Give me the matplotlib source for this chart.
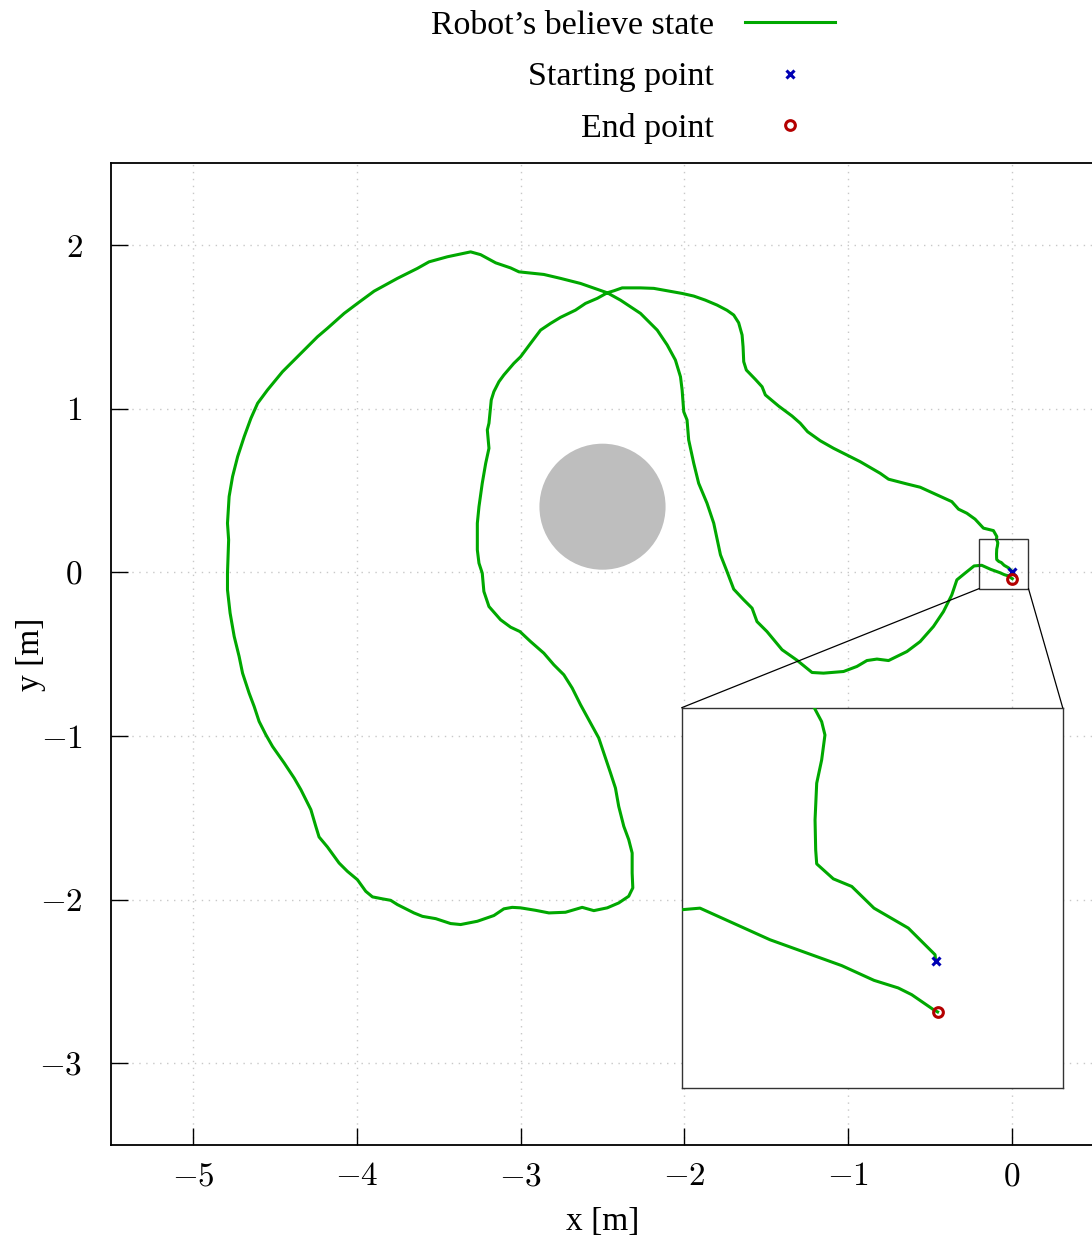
import matplotlib
matplotlib.use("Agg")
import matplotlib.pyplot as plt
from matplotlib.patches import Circle, Rectangle, ConnectionPatch

plt.rcParams['mathtext.fontset'] = 'cm'
plt.rcParams['font.family'] = ['Liberation Serif', 'DejaVu Serif']

# ---- data -------------------------------------------------------------
path_x = [0.0, -0.0005, -0.0216, -0.0486, -0.0661, -0.0806, -0.0937, -0.0945, -0.095, -0.0937,
          -0.0898, -0.0872, -0.0898, -0.0958,
          -0.093, -0.114, -0.175, -0.226, -0.276, -0.327, -0.368, -0.480, -0.561, -0.642,
          -0.754, -0.805, -0.927, -1.008, -1.090, -1.171, -1.248, -1.293, -1.343, -1.425,
          -1.506, -1.526, -1.567, -1.622, -1.638, -1.642, -1.648, -1.669, -1.699, -1.740,
          -1.801, -1.872, -1.943, -2.014, -2.126, -2.187, -2.268, -2.380, -2.431, -2.471,
          -2.532, -2.604, -2.665, -2.756, -2.817, -2.878, -2.909, -2.939, -3.000, -3.041,
          -3.102, -3.132, -3.163, -3.179, -3.193, -3.203, -3.193, -3.213, -3.234, -3.254,
          -3.264, -3.264, -3.254, -3.234, -3.224, -3.193, -3.122, -3.061, -3.004, -2.939,
          -2.858, -2.797, -2.736, -2.685, -2.634, -2.584, -2.523, -2.492, -2.451, -2.421,
          -2.401, -2.370, -2.340, -2.319, -2.319, -2.315, -2.340, -2.401, -2.471, -2.553,
          -2.624, -2.726, -2.827, -2.909, -3.000, -3.051, -3.102, -3.163, -3.264, -3.366,
          -3.427, -3.518, -3.599, -3.651, -3.752, -3.793, -3.843, -3.904, -3.945, -3.996,
          -4.057, -4.108, -4.138, -4.179, -4.230, -4.250, -4.280, -4.341, -4.382, -4.443,
          -4.514, -4.555, -4.596, -4.626, -4.657, -4.697, -4.718, -4.748, -4.773, -4.789,
          -4.789, -4.782, -4.789, -4.779, -4.758, -4.727, -4.687, -4.646, -4.605, -4.545,
          -4.453, -4.331, -4.240, -4.179, -4.077, -3.996, -3.894, -3.752, -3.630, -3.559,
          -3.447, -3.305, -3.244, -3.152, -3.061, -3.010, -2.858, -2.756, -2.634, -2.471,
          -2.390, -2.268, -2.166, -2.105, -2.055, -2.024, -2.014, -2.004, -1.984, -1.974,
          -1.943, -1.913, -1.862, -1.821, -1.791, -1.780, -1.740, -1.699, -1.638, -1.587,
          -1.557, -1.496, -1.445, -1.404, -1.313, -1.221, -1.151, -1.029, -0.947, -0.886,
          -0.825, -0.754, -0.642, -0.561, -0.480, -0.419, -0.368, -0.337, -0.287, -0.232,
          -0.2008, -0.1856, -0.1305, -0.074, -0.0486, -0.0295, -0.0189, -0.0019, 0.0015]
path_y = [0.0, 0.0053, 0.0263, 0.042, 0.0591, 0.0651, 0.0769, 0.0879, 0.1116, 0.1405,
          0.1588, 0.1785, 0.189, 0.2003,
          0.217, 0.254, 0.269, 0.324, 0.360, 0.385, 0.431, 0.482, 0.519, 0.539,
          0.568, 0.604, 0.675, 0.716, 0.757, 0.803, 0.858, 0.910, 0.954, 1.015,
          1.083, 1.133, 1.178, 1.235, 1.286, 1.377, 1.449, 1.524, 1.571, 1.600,
          1.632, 1.662, 1.687, 1.703, 1.723, 1.734, 1.737, 1.737, 1.719, 1.707,
          1.673, 1.642, 1.601, 1.557, 1.520, 1.479, 1.438, 1.398, 1.316, 1.276,
          1.205, 1.164, 1.103, 1.052, 0.910, 0.869, 0.757, 0.665, 0.543, 0.400,
          0.299, 0.136, 0.055, -0.006, -0.118, -0.210, -0.291, -0.336, -0.363, -0.424,
          -0.495, -0.566, -0.627, -0.708, -0.810, -0.902, -1.013, -1.105, -1.227, -1.319,
          -1.431, -1.553, -1.634, -1.716, -1.838, -1.929, -1.980, -2.021, -2.051, -2.068,
          -2.048, -2.078, -2.082, -2.066, -2.051, -2.048, -2.057, -2.098, -2.133, -2.153,
          -2.147, -2.117, -2.103, -2.082, -2.031, -2.005, -1.996, -1.984, -1.950, -1.879,
          -1.828, -1.777, -1.736, -1.679, -1.618, -1.553, -1.451, -1.329, -1.258, -1.166,
          -1.065, -0.993, -0.912, -0.821, -0.739, -0.617, -0.515, -0.393, -0.250, -0.108,
          -0.006, 0.197, 0.299, 0.462, 0.584, 0.706, 0.828, 0.940, 1.032, 1.113,
          1.225, 1.347, 1.438, 1.490, 1.581, 1.642, 1.717, 1.795, 1.856, 1.896,
          1.927, 1.957, 1.940, 1.890, 1.859, 1.835, 1.819, 1.795, 1.764, 1.707,
          1.662, 1.581, 1.479, 1.388, 1.296, 1.194, 1.113, 0.980, 0.930, 0.808,
          0.665, 0.543, 0.421, 0.299, 0.156, 0.106, 0.004, -0.104, -0.169, -0.220,
          -0.302, -0.363, -0.424, -0.474, -0.538, -0.613, -0.617, -0.607, -0.576, -0.540,
          -0.531, -0.540, -0.485, -0.424, -0.332, -0.241, -0.139, -0.047, -0.006, 0.038,
          0.0407, 0.042, 0.0171, -0.0033, -0.0149, -0.0209, -0.0262, -0.0379, -0.0398]

start_pt = (0.0, 0.0)
end_pt = (0.0015, -0.0398)
obstacle_center = (-2.5, 0.4)
obstacle_radius = 0.385

xlim = (-5.5, 0.5)
ylim = (-3.5, 2.5)
xticks = [-5, -4, -3, -2, -1, 0]
xtick_labels = [r'$-5$', r'$-4$', r'$-3$', r'$-2$', r'$-1$', r'$0$']
yticks = [-3, -2, -1, 0, 1, 2]
ytick_labels = [r'$-3$', r'$-2$', r'$-1$', r'$0$', r'$1$', r'$2$']

zoom_x = (-0.2, 0.1)
zoom_y = (-0.1, 0.2)

labels = ['Robot\u2019s believe state', 'Starting point', 'End point']

# ---- styles -----------------------------------------------------------
GREEN = '#00a800'
BLUE = '#0000b4'
RED = '#b40000'
W, H = 1092, 1242

fig = plt.figure(figsize=(W / 100, H / 100), dpi=100)
ax = fig.add_axes([111 / W, 1 - 1145 / H, (1094 - 111) / W, (1145 - 163) / H])

ax.add_patch(Circle(obstacle_center, obstacle_radius, facecolor='#bebebe',
                    edgecolor='none', zorder=1))
l1, = ax.plot(path_x, path_y, color=GREEN, lw=2.2, zorder=3, label=labels[0])
l2, = ax.plot([start_pt[0]], [start_pt[1]], ls='none', marker='x', color=BLUE,
              ms=6, mew=2.2, zorder=5, label=labels[1])
l3, = ax.plot([end_pt[0]], [end_pt[1]], ls='none', marker='o', mfc='none', mec=RED,
              ms=7, mew=2.2, zorder=5, label=labels[2])

ax.set_xlim(*xlim)
ax.set_ylim(*ylim)
ax.set_xticks(xticks, labels=xtick_labels)
ax.set_yticks(yticks, labels=ytick_labels)
ax.tick_params(direction='in', length=12, width=1.0, labelsize=24,
               top=False, right=False)
ax.tick_params(axis='x', pad=12)
ax.tick_params(axis='y', pad=20.5)
ax.grid(True, color='#c8c8c8', linestyle=(0, (1, 4)), lw=1.0)
for s in ax.spines.values():
    s.set_linewidth(1.3)
ax.set_xlabel('x [m]', fontsize=24, labelpad=10)
ax.set_ylabel('y [m]', fontsize=24, labelpad=-4.5)

# zoom box
ax.add_patch(Rectangle((zoom_x[0], zoom_y[0]), zoom_x[1] - zoom_x[0], zoom_y[1] - zoom_y[0],
                       fill=False, edgecolor='#333333', lw=1.0, zorder=4))

# inset
axin = fig.add_axes([681.7 / W, 1 - 1088.3 / H, 381 / W, 380.6 / H])
axin.plot(path_x, path_y, color=GREEN, lw=2.2, zorder=3)
axin.plot([start_pt[0]], [start_pt[1]], ls='none', marker='x', color=BLUE,
          ms=6, mew=2.2, zorder=5)
axin.plot([end_pt[0]], [end_pt[1]], ls='none', marker='o', mfc='none', mec=RED,
          ms=7, mew=2.2, zorder=5)
axin.set_xlim(*zoom_x)
axin.set_ylim(*zoom_y)
axin.set_xticks([])
axin.set_yticks([])
for s in axin.spines.values():
    s.set_linewidth(1.0)
    s.set_edgecolor('#333333')

for (xa, ya), (xb, yb) in [((zoom_x[0], zoom_y[0]), (0, 1)), ((zoom_x[1], zoom_y[0]), (1, 1))]:
    con = ConnectionPatch(xyA=(xa, ya), coordsA=ax.transData, xyB=(xb, yb),
                          coordsB=axin.transAxes, color='black', lw=0.9)
    fig.add_artist(con)

fig.legend(handles=[l1, l2, l3], labels=labels, loc='upper center',
           bbox_to_anchor=(633 / W, 1.0 - 7 / H), frameon=False, markerfirst=False,
           fontsize=24.5, handlelength=2.65, handletextpad=0.9, labelspacing=0.6,
           borderaxespad=0.0, borderpad=0.1)

fig.savefig('out.png', dpi=100)
